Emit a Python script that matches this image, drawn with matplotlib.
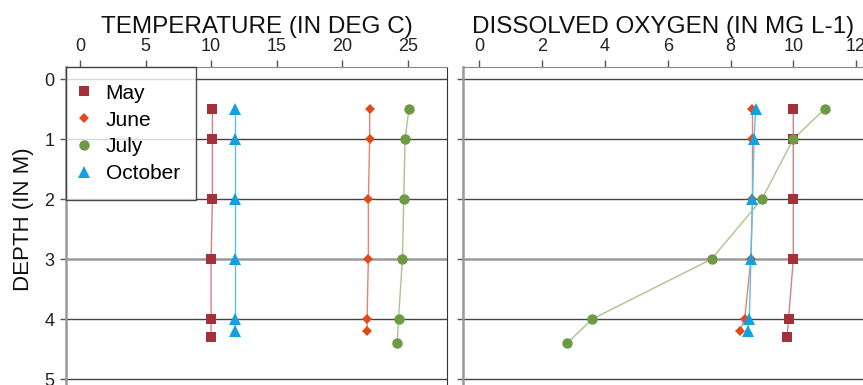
import matplotlib
matplotlib.use("Agg")
import matplotlib.pyplot as plt
from matplotlib.lines import Line2D

plt.rcParams['font.family'] = ['Liberation Sans', 'DejaVu Sans']

# ---- data ----
months = ["May", "June", "July", "October"]
depth_may = [0.5, 1, 2, 3, 4, 4.3]
depth_june = [0.5, 1, 2, 3, 4, 4.2]
depth_july = [0.5, 1, 2, 3, 4, 4.4]
depth_oct = [0.5, 1, 2, 3, 4, 4.2]

temp_may = [10.1, 10.1, 10.1, 10.0, 10.0, 10.0]
temp_june = [22.1, 22.1, 22.0, 22.0, 21.9, 21.9]
temp_july = [25.1, 24.8, 24.7, 24.6, 24.3, 24.2]
temp_oct = [11.8, 11.8, 11.8, 11.8, 11.8, 11.8]

do_may = [10.0, 10.0, 10.0, 10.0, 9.85, 9.8]
do_june = [8.7, 8.7, 8.7, 8.65, 8.45, 8.3]
do_july = [11.0, 10.0, 9.0, 7.4, 3.6, 2.8]
do_oct = [8.8, 8.75, 8.7, 8.65, 8.6, 8.55]

temp_ticks = [0, 5, 10, 15, 20, 25]
do_ticks = [0, 2, 4, 6, 8, 10, 12]
depth_ticks = [0, 1, 2, 3, 4, 5]

styles = [
    dict(marker='s', color='#A4313A', lc='#D88088', ms=7.5),
    dict(marker='D', color='#E04A1C', lc='#E8826A', ms=5),
    dict(marker='o', color='#6E9A45', lc='#A9C48E', ms=7.5),
    dict(marker='^', color='#14A0DE', lc='#5CC0EC', ms=9),
]

W, H = 863, 385
fig = plt.figure(figsize=(W / 100, H / 100), dpi=100)

ax1 = fig.add_axes([66 / W, 0.0, (447 - 66) / W, (385 - 67) / H])
ax2 = fig.add_axes([463 / W, 0.0, (W - 463) / W, (385 - 67) / H])

def setup(ax, xticks, xlim, title):
    ax.set_xlim(*xlim)
    ax.set_ylim(5.1, -0.2)
    ax.xaxis.tick_top()
    ax.xaxis.set_label_position('top')
    ax.set_xticks(xticks)
    ax.set_yticks(depth_ticks)
    ax.tick_params(axis='x', direction='out', length=5, width=1, color='#555555',
                   labelsize=13, pad=3.5, labelcolor='#222222')
    ax.tick_params(axis='y', direction='out', length=4.5, width=1, color='#555555',
                   labelsize=13, pad=4, labelcolor='#222222')
    for y in depth_ticks:
        if y == 3:
            ax.axhline(y, color='#999999', lw=1.8, zorder=1)
        else:
            ax.axhline(y, color='#444444', lw=1.0, zorder=1)
    ax.set_title(title, fontsize=17.5, pad=3, color='#111111')
    ax.spines['bottom'].set_visible(False)
    ax.spines['top'].set_color('#888888')
    ax.spines['left'].set_color('#999999')
    ax.spines['left'].set_linewidth(1.8)
    ax.spines['right'].set_color('#333333')

setup(ax1, temp_ticks, (-1.07, 28.0), "TEMPERATURE (IN DEG C)")
setup(ax2, do_ticks, (-0.52, 12.22), "DISSOLVED OXYGEN (IN MG L-1)")
ax2.tick_params(axis='y', labelleft=False)
ax2.spines['right'].set_visible(False)

fig.text(23 / W, 1 - 219 / H, "DEPTH (IN M)", rotation=90, fontsize=16,
         ha='center', va='center', color='#111111')

temp_series = [(temp_may, depth_may), (temp_june, depth_june), (temp_july, depth_july), (temp_oct, depth_oct)]
do_series = [(do_may, depth_may), (do_june, depth_june), (do_july, depth_july), (do_oct, depth_oct)]

for ax, series in [(ax1, temp_series), (ax2, do_series)]:
    for (xv, yv), st in zip(series, styles):
        ax.plot(xv, yv, color=st['lc'], lw=1.0, zorder=3)
        ax.plot(xv, yv, linestyle='none', marker=st['marker'], markersize=st['ms'],
                color=st['color'], markeredgewidth=0, zorder=4)

handles = [Line2D([], [], linestyle='none', marker=st['marker'], markersize=st['ms'],
                  color=st['color'], markeredgewidth=0) for st in styles]
leg = ax1.legend(handles, months, loc='upper left', bbox_to_anchor=(0.0, 1.0),
                 fontsize=15, frameon=True, fancybox=False, borderaxespad=0,
                 handlelength=0.15, handletextpad=0.95, labelspacing=0.38,
                 borderpad=0.8)
leg.get_frame().set_edgecolor('#222222')
leg.get_frame().set_linewidth(1.0)
leg.set_zorder(10)

fig.savefig("out.png", dpi=100)
